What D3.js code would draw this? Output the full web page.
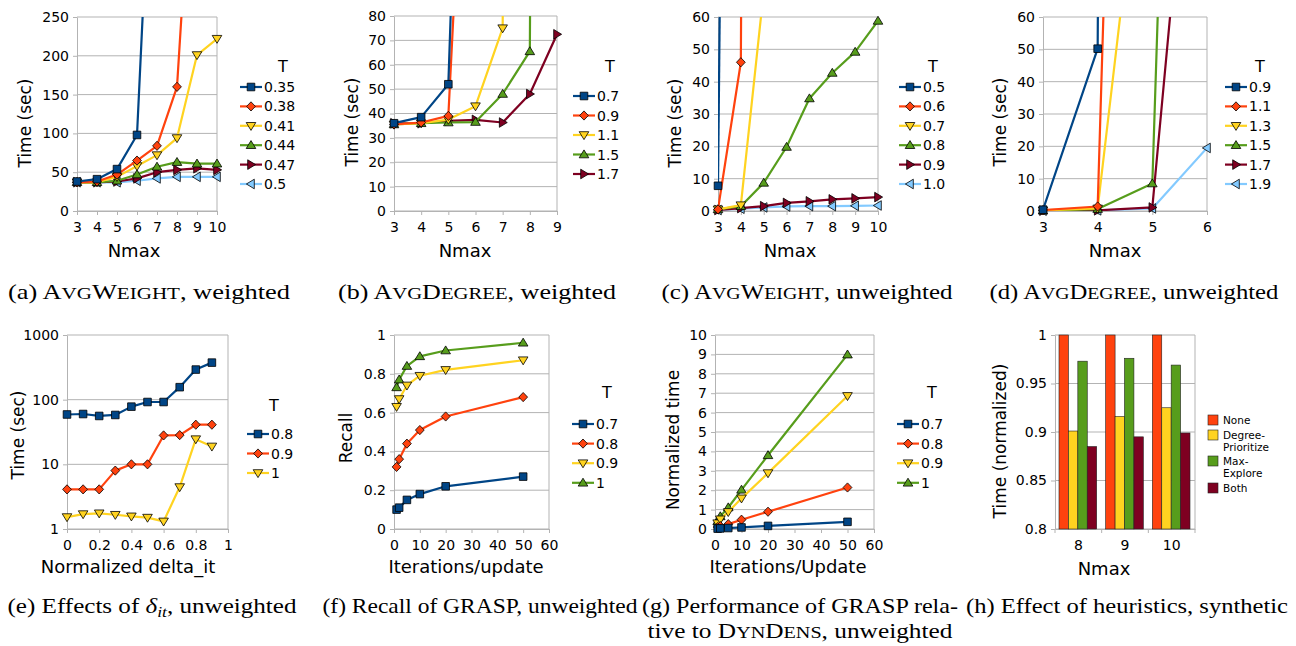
<!DOCTYPE html>
<html lang="en">
<head>
  <meta charset="UTF-8">
  <title>DynDens experiments</title>
  <script src="https://d3js.org/d3.v7.min.js"></script>
  <style>
    body { margin: 0; background: #fff; }
    svg text { font-family: 'DejaVu Sans', sans-serif; }
    svg text.cap { font-family: 'Liberation Serif', 'Times New Roman', serif; }
  </style>
</head>
<body>
  <div class="canvas"></div>
  <script>
    const colors = ['#004586', '#ff420e', '#ffd320', '#579d1c', '#7e0021', '#83caff'];

    // (a) AvgWeight, weighted
    const nmaxA = [3, 4, 5, 6, 7, 8, 9, 10];
    const tA = ['0.35', '0.38', '0.41', '0.44', '0.47', '0.5'];
    const timeA = [
      [38, 41, 54, 98, 640],
      [37, 38, 47, 65, 84, 160, 570],
      [37, 37, 44, 58, 72, 94, 201, 222],
      [37, 37, 39, 47, 57, 63, 61, 61],
      [37, 37, 38, 42, 50, 53, 55, 53],
      [37, 37, 37, 39, 42, 44, 44, 44]
    ];
    const yTicksA = [0, 50, 100, 150, 200, 250];

    // (b) AvgDegree, weighted
    const nmaxB = [3, 4, 5, 6, 7, 8, 9];
    const tB = ['0.7', '0.9', '1.1', '1.5', '1.7'];
    const timeB = [
      [36, 38.5, 52, 380],
      [35.5, 36.3, 39, 260],
      [35.5, 36, 37.5, 43, 75, 2000],
      [35.5, 36, 36.3, 36.5, 48, 65.5, 2000],
      [36, 36, 37, 37.4, 36.3, 48, 72.5]
    ];
    const yTicksB = [0, 10, 20, 30, 40, 50, 60, 70, 80];

    // (c) AvgWeight, unweighted
    const nmaxC = [3, 4, 5, 6, 7, 8, 9, 10];
    const tC = ['0.5', '0.6', '0.7', '0.8', '0.9', '1.0'];
    const timeC = [
      [7.8, 720],
      [0.5, 46, 1500],
      [0.5, 1.8, 68],
      [0.5, 1.5, 8.7, 19.8, 34.8, 42.7, 49.2, 58.8],
      [0.3, 0.9, 1.5, 2.5, 3.0, 3.6, 3.9, 4.3],
      [0.3, 0.7, 1.1, 1.4, 1.5, 1.5, 1.6, 1.7]
    ];
    const yTicksC = [0, 10, 20, 30, 40, 50, 60];

    // (d) AvgDegree, unweighted
    const nmaxD = [3, 4, 5, 6];
    const tD = ['0.9', '1.1', '1.3', '1.5', '1.7', '1.9'];
    const timeD = [
      [0.4, 50.2, 3000],
      [0.3, 1.4, 565],
      [0.2, 0.8, 145],
      [0.1, 0.6, 8.5, 535],
      [0.1, 0.2, 1.1, 183],
      [0.1, 0.2, 0.8, 19.5]
    ];
    const yTicksD = [0, 10, 20, 30, 40, 50, 60];

    // (e) effects of delta_it
    const deltaE = [0, 0.1, 0.2, 0.3, 0.4, 0.5, 0.6, 0.7, 0.8, 0.9];
    const tE = ['0.8', '0.9', '1'];
    const timeE = [
      [59, 60, 56, 58, 78, 92, 92, 156, 292, 374],
      [4.1, 4.1, 4.1, 8.0, 10, 10, 28, 28.3, 41, 41],
      [1.53, 1.7, 1.75, 1.66, 1.57, 1.5, 1.31, 4.45, 24.5, 18.9]
    ];
    const xTicksE = [0, 0.2, 0.4, 0.6, 0.8, 1];
    const yTicksE = [1, 10, 100, 1000];

    // (f) recall of GRASP
    const itersF = [1, 2, 5, 10, 20, 50];
    const tF = ['0.7', '0.8', '0.9', '1'];
    const recallF = [
      [0.10, 0.11, 0.15, 0.18, 0.22, 0.27],
      [0.32, 0.36, 0.44, 0.51, 0.58, 0.68],
      [0.63, 0.67, 0.74, 0.79, 0.82, 0.87],
      [0.73, 0.77, 0.84, 0.89, 0.92, 0.96]
    ];
    const xTicksF = [0, 10, 20, 30, 40, 50, 60];
    const yTicksF = [0, 0.2, 0.4, 0.6, 0.8, 1];

    // (g) GRASP time relative to DynDens
    const itersG = [1, 2, 5, 10, 20, 50];
    const tG = ['0.7', '0.8', '0.9', '1'];
    const normTimeG = [
      [0.02, 0.03, 0.05, 0.08, 0.16, 0.37],
      [0.1, 0.15, 0.25, 0.48, 0.89, 2.14],
      [0.3, 0.5, 0.88, 1.58, 2.88, 6.86],
      [0.4, 0.65, 1.11, 2.02, 3.8, 8.99]
    ];
    const yTicksG = [0, 1, 2, 3, 4, 5, 6, 7, 8, 9, 10];

    // (h) heuristics
    const nmaxH = ['8', '9', '10'];
    const heuristics = ['None', 'Degree-Prioritize', 'Max-Explore', 'Both'];
    const heurLabels = [['None'], ['Degree-', 'Prioritize'], ['Max-', 'Explore'], ['Both']];
    const normTimeH = [
      [1, 1, 1],
      [0.901, 0.916, 0.925],
      [0.973, 0.976, 0.969],
      [0.885, 0.895, 0.899]
    ];
    const yTicksH = [0.8, 0.85, 0.9, 0.95, 1];
    const heurColors = ['#ff420e', '#ffd320', '#579d1c', '#7e0021'];

    // marker shapes, one per series
    const markers = [
      'M-3.8,-3.8H3.8V3.8H-3.8Z',
      'M0,-4.6L4.4,0L0,4.6L-4.4,0Z',
      'M-4.8,-3.3H4.8L0,4.6Z',
      'M0,-4.6L4.8,3.3H-4.8Z',
      'M-3.3,-4.8L4.6,0L-3.3,4.8Z',
      'M3.3,-4.8L-4.6,0L3.3,4.8Z'
    ];

    const width = 1296;
    const height = 646;
    const grid = '#b3b3b3';

    const svg = d3.select('.canvas')
                  .append('svg')
                  .attr('width', width)
                  .attr('height', height);

    function styleAxis(g) {
      g.selectAll('.domain, .tick line').attr('stroke', grid);
      g.selectAll('.tick text').attr('font-size', 14).attr('fill', '#000')
        .attr('font-family', 'DejaVu Sans');
    }

    function axisTitles(g, p) {
      g.append('text')
        .attr('x', p.xTitle[1]).attr('y', p.xTitle[2])
        .attr('text-anchor', 'middle').attr('font-size', 18)
        .text(p.xTitle[0]);
      g.append('text')
        .attr('transform', `translate(${p.yTitle[1]},${p.yTitle[2]}) rotate(-90)`)
        .attr('text-anchor', 'middle').attr('font-size', 17)
        .text(p.yTitle[0]);
    }

    function linePanel(p) {
      const g = svg.append('g');
      const x = d3.scaleLinear().domain(p.xDomain).range([p.left, p.right]);
      const y = (p.log ? d3.scaleLog() : d3.scaleLinear())
                  .domain(p.yDomain).range([p.bottom, p.top]);

      svg.append('clipPath').attr('id', 'clip' + p.id)
        .append('rect')
        .attr('x', p.left).attr('y', p.top)
        .attr('width', p.right - p.left).attr('height', p.bottom - p.top);

      // horizontal grid + right border
      g.append('g').selectAll('line').data(p.yTicks).join('line')
        .attr('x1', p.left).attr('x2', p.right)
        .attr('y1', d => y(d)).attr('y2', d => y(d))
        .attr('stroke', grid);
      g.append('line')
        .attr('x1', p.right).attr('x2', p.right)
        .attr('y1', p.top).attr('y2', p.bottom)
        .attr('stroke', grid);

      g.append('g').attr('transform', `translate(${p.left},0)`)
        .call(d3.axisLeft(y).tickValues(p.yTicks).tickFormat(d => String(d))
                .tickSize(4).tickSizeOuter(0).tickPadding(4))
        .call(styleAxis);
      g.append('g').attr('transform', `translate(0,${p.bottom})`)
        .call(d3.axisBottom(x).tickValues(p.xTicks).tickFormat(d => String(d))
                .tickSize(4).tickSizeOuter(0).tickPadding(7))
        .call(styleAxis);

      const line = d3.line().x(d => x(d[0])).y(d => y(d[1]));
      const series = p.names.map((name, i) => ({
        name, i,
        pts: p.values[i].map((v, j) => [p.x[j], v])
      }));

      // first series drawn last so it sits on top
      const sg = g.append('g').selectAll('g').data(series.slice().reverse()).join('g');
      sg.append('path')
        .attr('d', s => line(s.pts))
        .attr('fill', 'none')
        .attr('stroke', s => colors[s.i])
        .attr('stroke-width', 2.2)
        .attr('stroke-linejoin', 'round')
        .attr('clip-path', `url(#clip${p.id})`);
      sg.selectAll('.mk')
        .data(s => s.pts.filter(d => d[1] <= p.yDomain[1]).map(d => ({ d, i: s.i })))
        .join('path')
        .attr('class', 'mk')
        .attr('transform', m => `translate(${x(m.d[0])},${y(m.d[1])})`)
        .attr('d', m => markers[m.i])
        .attr('fill', m => colors[m.i])
        .attr('stroke', '#000')
        .attr('stroke-width', 0.8);

      // legend
      const lg = g.append('g');
      lg.append('text')
        .attr('x', p.legTitle[0]).attr('y', p.legTitle[1])
        .attr('text-anchor', 'middle').attr('font-size', 16)
        .text('T');
      const items = lg.selectAll('g.item').data(series).join('g')
        .attr('class', 'item')
        .attr('transform', s => `translate(${p.legX},${p.legY + s.i * p.legStep})`);
      items.append('line')
        .attr('x1', 0).attr('x2', 22)
        .attr('stroke', s => colors[s.i]).attr('stroke-width', 2.2);
      items.append('path')
        .attr('transform', 'translate(11,0)')
        .attr('d', s => markers[s.i])
        .attr('fill', s => colors[s.i])
        .attr('stroke', '#000').attr('stroke-width', 0.8);
      items.append('text')
        .attr('x', 24).attr('dy', '0.36em')
        .attr('font-size', 14)
        .text(s => s.name);

      axisTitles(g, p);
    }

    const panels = [
      { id: 'a', x: nmaxA, names: tA, values: timeA, left: 77, right: 217, top: 17, bottom: 211,
        xDomain: [3, 10], xTicks: nmaxA, yDomain: [0, 250], yTicks: yTicksA,
        xTitle: ['Nmax', 134, 257], yTitle: ['Time (sec)', 31, 123],
        legX: 240, legY: 87, legStep: 19.4, legTitle: [283, 72] },
      { id: 'b', x: nmaxB, names: tB, values: timeB, left: 394, right: 557, top: 16, bottom: 211,
        xDomain: [3, 9], xTicks: nmaxB, yDomain: [0, 80], yTicks: yTicksB,
        xTitle: ['Nmax', 465, 257], yTitle: ['Time (sec)', 358, 122],
        legX: 573, legY: 96, legStep: 19.5, legTitle: [610, 72] },
      { id: 'c', x: nmaxC, names: tC, values: timeC, left: 718, right: 878, top: 17, bottom: 211,
        xDomain: [3, 10], xTicks: nmaxC, yDomain: [0, 60], yTicks: yTicksC,
        xTitle: ['Nmax', 790, 257], yTitle: ['Time (sec)', 681, 123],
        legX: 899, legY: 87, legStep: 19.4, legTitle: [933, 72] },
      { id: 'd', x: nmaxD, names: tD, values: timeD, left: 1043, right: 1207, top: 17, bottom: 211,
        xDomain: [3, 6], xTicks: nmaxD, yDomain: [0, 60], yTicks: yTicksD,
        xTitle: ['Nmax', 1115, 257], yTitle: ['Time (sec)', 1006, 122],
        legX: 1225, legY: 87, legStep: 19.4, legTitle: [1260, 72] },
      { id: 'e', x: deltaE, names: tE, values: timeE, left: 67, right: 228, top: 335, bottom: 529,
        xDomain: [0, 1], xTicks: xTicksE, yDomain: [1, 1000], yTicks: yTicksE, log: true,
        xTitle: ['Normalized delta_it', 128, 573], yTitle: ['Time (sec)', 24, 435],
        legX: 247, legY: 434, legStep: 19.5, legTitle: [274, 411] },
      { id: 'f', x: itersF, names: tF, values: recallF, left: 394, right: 549, top: 335, bottom: 529,
        xDomain: [0, 60], xTicks: xTicksF, yDomain: [0, 1], yTicks: yTicksF,
        xTitle: ['Iterations/update', 466, 573], yTitle: ['Recall', 352, 438],
        legX: 572, legY: 424, legStep: 19.6, legTitle: [607, 398] },
      { id: 'g', x: itersG, names: tG, values: normTimeG, left: 715, right: 874, top: 335, bottom: 529,
        xDomain: [0, 60], xTicks: xTicksF, yDomain: [0, 10], yTicks: yTicksG,
        xTitle: ['Iterations/Update', 788, 573], yTitle: ['Normalized time', 679, 440],
        legX: 897, legY: 424, legStep: 19.6, legTitle: [932, 398] }
    ];
    panels.forEach(linePanel);

    // (h) grouped bars
    const ph = { left: 1055, right: 1195, top: 335, bottom: 529,
                 xTitle: ['Nmax', 1104, 575], yTitle: ['Time (normalized)', 1006, 441] };
    const gh = svg.append('g');
    const x0 = d3.scaleBand().domain(nmaxH).range([ph.left, ph.right]);
    const x1 = d3.scaleBand().domain(heuristics).range([4, x0.bandwidth() - 5]);
    const yh = d3.scaleLinear().domain([0.8, 1]).range([ph.bottom, ph.top]);

    gh.append('g').selectAll('line').data(yTicksH).join('line')
      .attr('x1', ph.left).attr('x2', ph.right)
      .attr('y1', d => yh(d)).attr('y2', d => yh(d))
      .attr('stroke', grid);
    gh.append('line')
      .attr('x1', ph.right).attr('x2', ph.right)
      .attr('y1', ph.top).attr('y2', ph.bottom)
      .attr('stroke', grid);
    gh.append('g').attr('transform', `translate(${ph.left},0)`)
      .call(d3.axisLeft(yh).tickValues(yTicksH).tickFormat(d => String(d))
              .tickSize(4).tickSizeOuter(0).tickPadding(4))
      .call(styleAxis);
    gh.append('g').attr('transform', `translate(0,${ph.bottom})`)
      .call(d3.axisBottom(x0).tickSize(0).tickPadding(11))
      .call(styleAxis);
    gh.append('g').selectAll('line').data(nmaxH.map(d => x0(d)).concat([x0.range()[1]])).join('line')
      .attr('x1', d => d).attr('x2', d => d)
      .attr('y1', ph.bottom).attr('y2', ph.bottom + 4)
      .attr('stroke', grid);

    const groups = gh.append('g').selectAll('g').data(nmaxH).join('g')
      .attr('transform', d => `translate(${x0(d)},0)`);
    groups.selectAll('rect')
      .data((d, gi) => heuristics.map((h, hi) => ({ h, hi, v: normTimeH[hi][gi] })))
      .join('rect')
      .attr('x', b => x1(b.h))
      .attr('width', x1.bandwidth())
      .attr('y', b => yh(b.v))
      .attr('height', b => ph.bottom - yh(b.v))
      .attr('fill', b => heurColors[b.hi])
      .attr('stroke', '#222')
      .attr('stroke-width', 0.6);

    const lh = gh.append('g').selectAll('g').data(heuristics).join('g')
      .attr('transform', (h, i) => `translate(1208,${[420, 435, 461, 488][i]})`);
    lh.append('rect')
      .attr('x', 0).attr('y', -5).attr('width', 10).attr('height', 10)
      .attr('fill', (h, i) => heurColors[i])
      .attr('stroke', '#222').attr('stroke-width', 0.6);
    lh.append('text')
      .attr('x', 15).attr('font-size', 10.5)
      .selectAll('tspan').data((h, i) => heurLabels[i]).join('tspan')
      .attr('x', 15).attr('dy', (t, j) => j === 0 ? '0.36em' : '1.18em')
      .text(t => t);
    axisTitles(gh, ph);

    // sub-figure captions
    function caption(cx, cy, len, parts) {
      const t = svg.append('text').attr('class', 'cap')
        .attr('x', cx).attr('y', cy)
        .attr('text-anchor', 'middle').attr('font-size', 22)
        .attr('textLength', len).attr('lengthAdjust', 'spacingAndGlyphs');
      parts.forEach(pt => {
        const s = typeof pt === 'string' ? { t: pt } : pt;
        const ts = t.append('tspan').text(s.t);
        if (s.sc) ts.attr('font-size', 17.5);
        if (s.it) ts.attr('font-style', 'italic');
        if (s.sub) ts.attr('font-size', 15.5);
        if (s.dy) ts.attr('dy', s.dy);
      });
    }
    const sc = t => ({ t, sc: true });
    caption(149, 299, 282, ['(a) A', sc('VG'), 'W', sc('EIGHT'), ', weighted']);
    caption(477, 299, 278, ['(b) A', sc('VG'), 'D', sc('EGREE'), ', weighted']);
    caption(807, 299, 291, ['(c) A', sc('VG'), 'W', sc('EIGHT'), ', unweighted']);
    caption(1134, 299, 289, ['(d) A', sc('VG'), 'D', sc('EGREE'), ', unweighted']);
    caption(152, 613, 289, ['(e) Effects of ', { t: 'δ', it: true },
      { t: 'it', it: true, sub: true, dy: 4 }, { t: ', unweighted', dy: -4 }]);
    caption(480, 613, 315, ['(f) Recall of GRASP, unweighted']);
    caption(800, 613, 316, ['(g) Performance of GRASP rela-']);
    caption(800, 638, 305, ['tive to D', sc('YN'), 'D', sc('ENS'), ', unweighted']);
    caption(1127, 613, 322, ['(h) Effect of heuristics, synthetic']);
  </script>
</body>
</html>
